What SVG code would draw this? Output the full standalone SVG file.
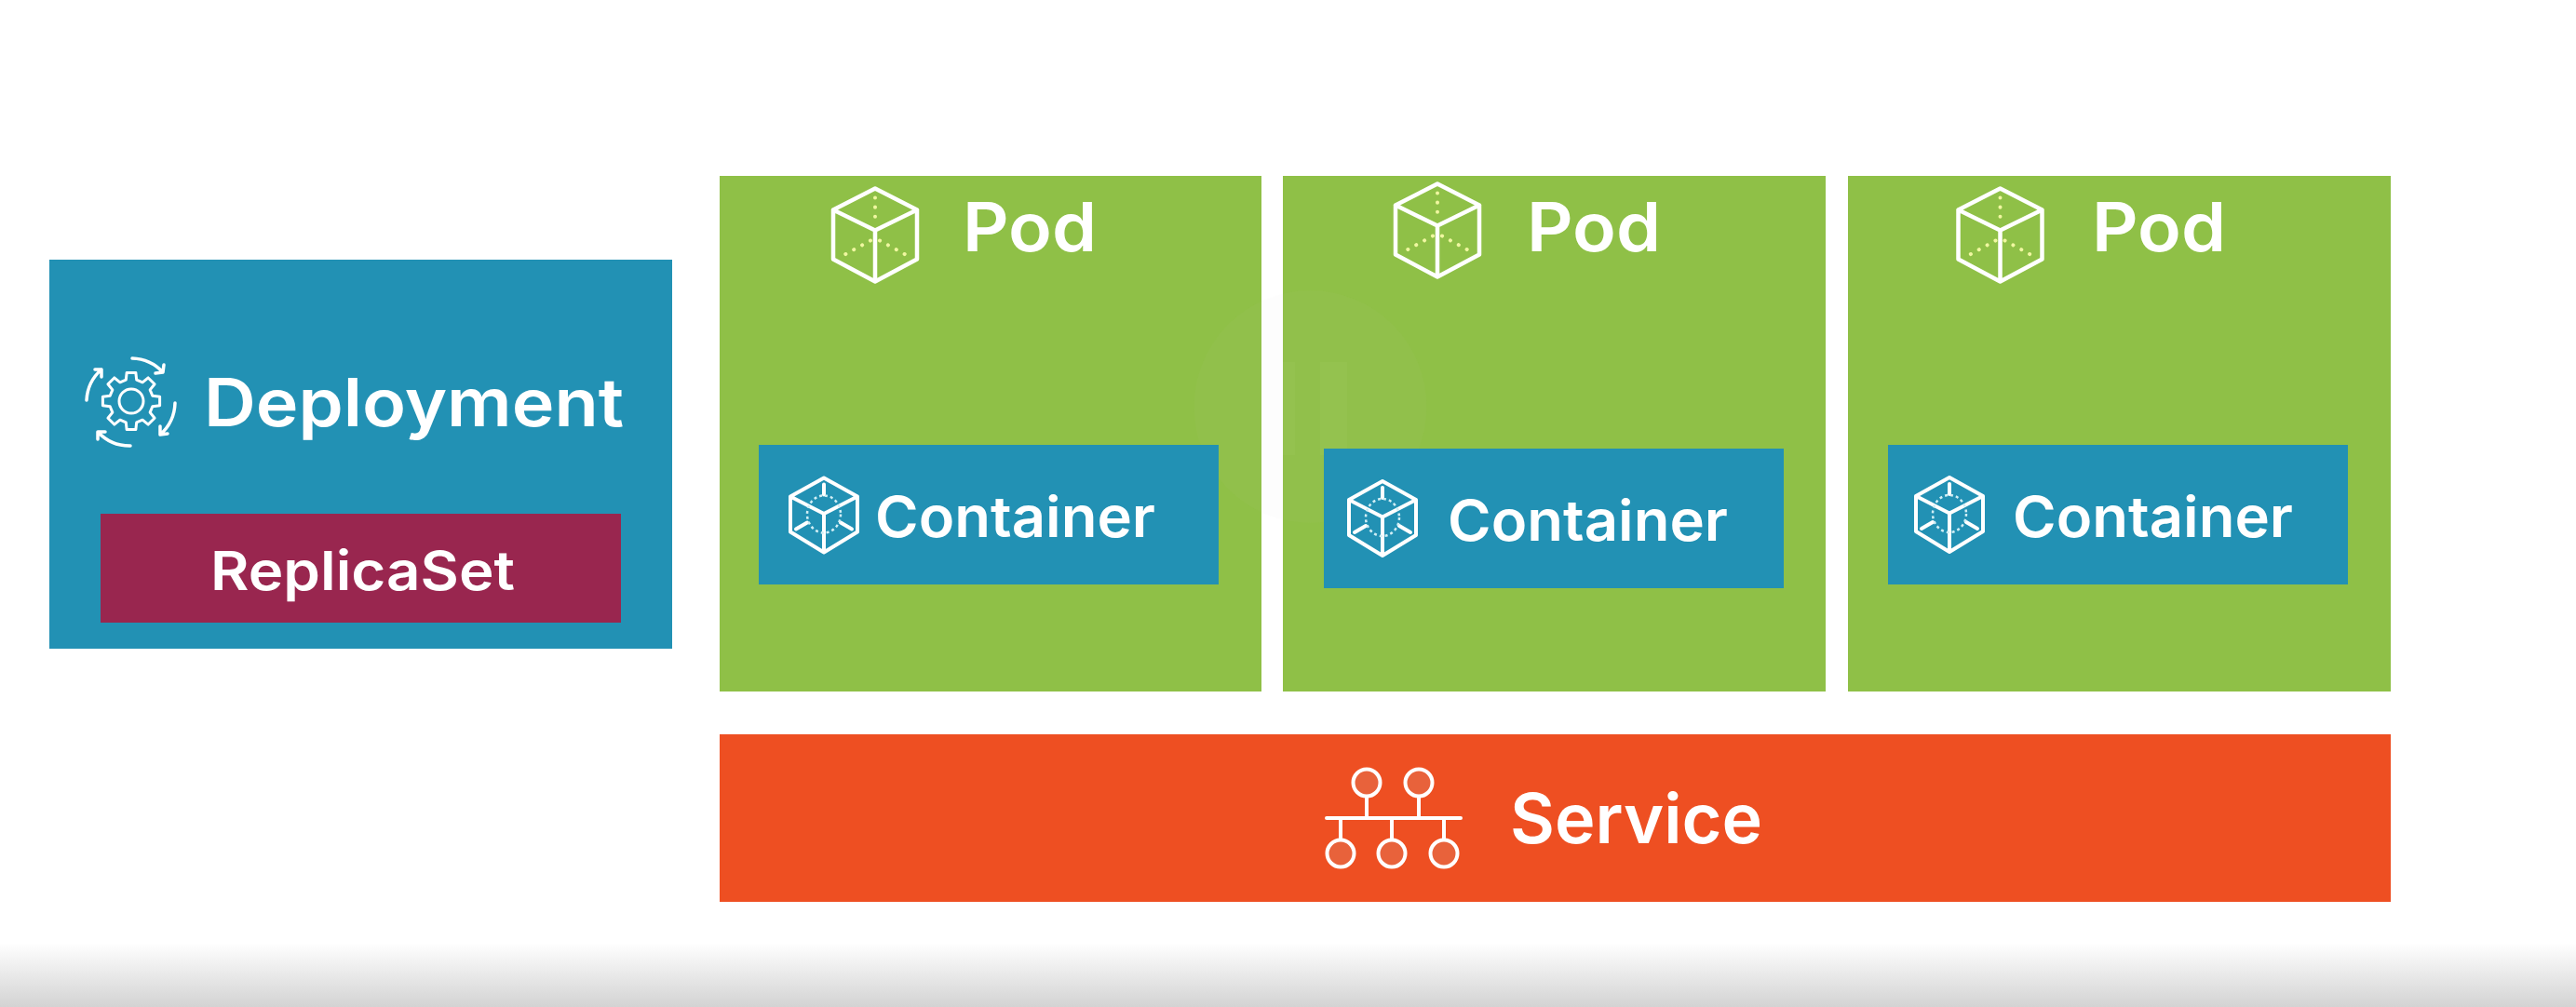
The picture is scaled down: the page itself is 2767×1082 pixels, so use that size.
<svg xmlns="http://www.w3.org/2000/svg" width="2767" height="1082" viewBox="0 0 2767 1082">
<style>
.t{font-family:"Inter","Liberation Sans",sans-serif;font-weight:600;fill:#fff}
.ln{fill:none;stroke:#fff;stroke-linejoin:round;stroke-linecap:round}
.blue{fill:#2491b4}.green{fill:#8fc046}
.dot{fill:none;stroke:#f0f7a0;stroke-linecap:round}
.dash{fill:none;stroke:#d0eef5}
</style>
<defs>
<linearGradient id="fade" x1="0" y1="0" x2="0" y2="1"><stop offset="0" stop-color="#fff"/><stop offset="1" stop-color="#d3d3d3"/></linearGradient>
<filter id="soft" x="-2%" y="-2%" width="104%" height="104%"><feGaussianBlur stdDeviation="0.7"/></filter>
<g id="podIcon">
<path class="ln" stroke-width="4.500" d="M0-50L45-27V26L0 50-45 26V-27ZM-45-27L0-5 45-27M0-5V50"/>
<path class="dot" stroke-width="4" stroke-dasharray="0.1 10" d="M0-40V-10M-5 6L-38 24M5 6L38 24"/>
</g>
<g id="containerIcon">
<path class="ln" stroke-width="4" d="M0-40L36-20V18L0 40-36 18V-20ZM-36-20L0-1.500 36-20M0-1.500V40M0-33V-22M-30 15L-18 8M30 15L18 8"/>
<ellipse class="dash" stroke-width="2.500" stroke-dasharray="3 3" cx="0" cy="-1" rx="18" ry="20"/>
</g>
</defs>
<rect width="2767" height="1082" fill="#fff"/>
<rect y="1013" width="2767" height="69" fill="url(#fade)"/>
<g filter="url(#soft)">
<g id="connectors"/>
<g id="deployment">
<rect class="blue" x="53" y="279" width="669" height="418"/>
<g transform="translate(141 431)">
<polygon class="ln" stroke-width="3" points="-5.700,-22.800 -4.850,-30.600 4.850,-30.600 5.700,-22.800 12.100,-20.150 18.200,-25.060 25.060,-18.200 20.150,-12.100 22.800,-5.700 30.600,-4.850 30.600,4.850 22.800,5.700 20.150,12.100 25.060,18.200 18.200,25.060 12.100,20.150 5.700,22.800 4.850,30.600 -4.850,30.600 -5.700,22.800 -12.100,20.150 -18.200,25.060 -25.060,18.200 -20.150,12.100 -22.800,5.700 -30.600,4.850 -30.600,-4.850 -22.800,-5.700 -20.150,-12.100 -25.060,-18.200 -18.200,-25.060 -12.100,-20.150"/>
<circle class="ln" stroke-width="3" r="13"/>
<path class="ln" stroke-width="3.500" d="M1-46A47 47 0 0 1 34-31M26-30L34-31 35-39M47 2A47 47 0 0 1 31 36M39 35L31 36 31 27M-1 48A47 47 0 0 1-36 33M-28 33L-36 33-36 41M-48-1A47 47 0 0 1-32-34M-39-34L-32-34-32-26"/>
</g>
<text class="t" x="219" y="458" font-size="71" textLength="451" lengthAdjust="spacingAndGlyphs">Deployment</text>
</g>
<g id="replicaset">
<rect x="108" y="552" width="559" height="117" fill="#99274f"/>
<text class="t" x="226" y="634" font-size="58" textLength="327" lengthAdjust="spacingAndGlyphs">ReplicaSet</text>
</g>
<g id="pod-1">
<rect class="green" x="773" y="189" width="582" height="554"/>
<use href="#podIcon" x="940" y="252.500"/>
<text class="t" x="1034" y="270" font-size="73" textLength="144" lengthAdjust="spacingAndGlyphs">Pod</text>
</g>
<g id="pod-2">
<rect class="green" x="1378" y="189" width="583" height="554"/>
<use href="#podIcon" x="1544" y="247.500"/>
<text class="t" x="1640" y="270" font-size="73" textLength="144" lengthAdjust="spacingAndGlyphs">Pod</text>
</g>
<g id="pod-3">
<rect class="green" x="1985" y="189" width="583" height="554"/>
<use href="#podIcon" x="2148.500" y="252.500"/>
<text class="t" x="2247" y="270" font-size="73" textLength="144" lengthAdjust="spacingAndGlyphs">Pod</text>
</g>
<circle cx="1407.500" cy="437" r="125" fill="#c8c8c8" fill-opacity="0.04"/>
<path d="M1363 389H1391V489H1363ZM1418 389H1447V489H1418Z" fill="#fff" fill-opacity="0.03"/>
<g id="container-1">
<rect class="blue" x="815" y="478" width="494" height="150"/>
<use href="#containerIcon" x="885" y="553.500"/>
<text class="t" x="940" y="577" font-size="61" textLength="301" lengthAdjust="spacingAndGlyphs">Container</text>
</g>
<g id="container-2">
<rect class="blue" x="1422" y="482" width="494" height="150"/>
<use href="#containerIcon" x="1485" y="557"/>
<text class="t" x="1555" y="581" font-size="61" textLength="301" lengthAdjust="spacingAndGlyphs">Container</text>
</g>
<g id="container-3">
<rect class="blue" x="2028" y="478" width="494" height="150"/>
<use href="#containerIcon" x="2094" y="553"/>
<text class="t" x="2162" y="577" font-size="61" textLength="301" lengthAdjust="spacingAndGlyphs">Container</text>
</g>
<g id="service">
<rect x="773" y="789" width="1795" height="180" fill="#ee5021"/>
<path class="ln" stroke-width="4" d="M1425 879H1569M1468 856V879M1524 856V879M1440 879V902M1495 879V902M1551 879V902"/>
<g fill="#e8623b" stroke="#fff" stroke-width="4">
<circle cx="1468" cy="841" r="14.500"/><circle cx="1524" cy="841" r="14.500"/>
<circle cx="1440" cy="917" r="14.500"/><circle cx="1495" cy="917" r="14.500"/><circle cx="1551" cy="917" r="14.500"/>
</g>
<text class="t" x="1622" y="906" font-size="74" textLength="271" lengthAdjust="spacingAndGlyphs">Service</text>
</g>
</g>
</svg>
